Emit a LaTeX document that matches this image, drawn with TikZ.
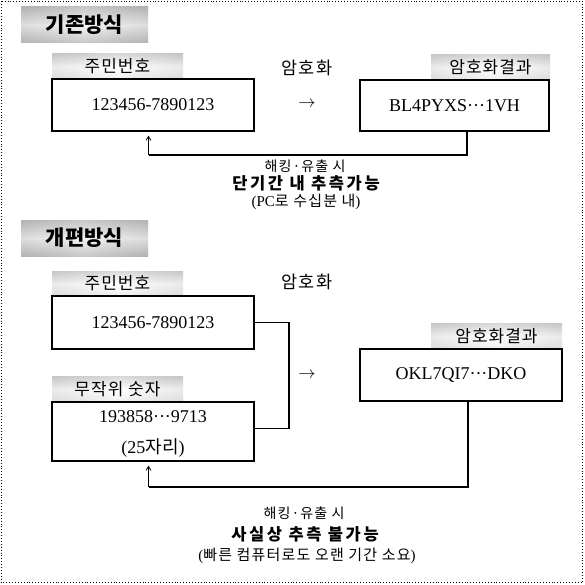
\documentclass[tikz,border=0pt]{standalone}
\usepackage{fontspec}
\setmainfont{Liberation Serif}
\newfontfamily\kr{Noto Sans CJK KR}
\usetikzlibrary{arrows.meta}
\definecolor{tagg}{gray}{0.68}
\definecolor{titg}{gray}{0.60}
\begin{document}
\begin{tikzpicture}[x=1pt,y=-1pt,
  box/.style={draw=black, line width=1.3pt, minimum width=202pt, minimum height=52pt,
    inner sep=0pt, font=\fontsize{18}{20}\selectfont},
  tag/.style={minimum width=131pt, minimum height=25pt, inner sep=0pt,
    preaction={left color=tagg, right color=tagg, middle color=white},
    top color=tagg, bottom color=tagg!40, middle color=white, fill opacity=0.45, text opacity=1,
    font=\kr\fontsize{17}{19}\selectfont\addfontfeatures{LetterSpace=6}},
  title/.style={minimum width=127pt, minimum height=36pt, inner sep=0pt,
    preaction={left color=titg, right color=titg, middle color=gray!12},
    top color=titg, bottom color=titg, middle color=gray!12, fill opacity=0.5, text opacity=1,
    font=\kr\bfseries\fontsize{21}{23}\selectfont},
  enc/.style={font=\kr\fontsize{17.5}{19}\selectfont\addfontfeatures{LetterSpace=6}},
  arr/.style={font=\fontsize{19}{21}\selectfont},
  num/.style={font=\fontsize{18}{20}\selectfont, inner sep=0pt},
  small/.style={font=\kr\fontsize{14}{16}\selectfont\addfontfeatures{LetterSpace=8}},
  strong/.style={font=\kr\bfseries\fontsize{16.5}{18}\selectfont\addfontfeatures{LetterSpace=16}},
  note/.style={font=\fontsize{15}{17}\selectfont},
  thickline/.style={line width=1.8pt},
  thinarrow/.style={line width=0.8pt, -{Straight Barb[length=4pt,width=5pt]}}
]
\useasboundingbox (0,0) rectangle (585,585);
\draw[dotted, line width=0.9pt] (1.5,1.5) rectangle (582.5,582.5);

% ---------- upper part ----------
\node[title] (t1) at (84.5,25) {기존방식};
\node[tag] (l1) at (117.5,66.5) {주민번호};
\node[box] (b1) at (153,105) {123456-7890123};
\node[enc] (enc1) at (307,68) {암호화};
\node[arr] (a1) at (307,104) {$\rightarrow$};
\node[tag, minimum width=119pt] (l2) at (490.5,67) {암호화결과};
\node[box, minimum width=189pt, minimum height=51pt] (b2) at (454.5,105.5) {BL4PYXS···1VH};
\coordinate (c1) at (148.5,155);
\draw[thickline] ([xshift=12.5pt]b2.south) |- (c1);
\draw[thinarrow] (c1) -- ([yshift=-4pt]c1 |- b1.south);
\node[small] (h1) at (305,166) {해킹·유출 시};
\node[strong] (h2) at (306,183.5) {단기간 내 추측가능};
\node[note] (h3) at (306,202) {(PC{\kr\addfontfeatures{LetterSpace=8} 로 수십분 내})};

% ---------- lower part ----------
\node[title] (t2) at (84.5,238) {개편방식};
\node[tag] (l3) at (117.5,283.5) {주민번호};
\node[box, minimum height=53pt] (b3) at (153,322.5) {123456-7890123};
\node[enc] (enc2) at (307,282) {암호화};
\node[tag] (l4) at (117.5,389) {무작위 숫자};
\node[box, minimum height=59pt] (b4) at (153,431.5) {};
\node[num] (n1) at (153,417) {193858···9713};
\node[num] (n2) at (153,448) {(25{\kr 자리})};
\coordinate (k) at (289,0);
\draw[line width=1.1pt] (b3.east) -- (b3.east -| k) |- ([yshift=3pt]b4.east);
\node[arr] (a2) at (307,375) {$\rightarrow$};
\node[tag] (l5) at (496.5,336) {암호화결과};
\node[box] (b5) at (461,375) {OKL7QI7···DKO};
\coordinate (c2) at (148.5,487);
\draw[thickline] ([xshift=7pt]b5.south) |- (c2);
\draw[thinarrow] (c2) -- ([yshift=-4pt]c2 |- b4.south);
\node[small] (h4) at (304,513) {해킹·유출 시};
\node[strong] (h5) at (305,534.5) {사실상 추측 불가능};
\node[note] (h6) at (307,555.5) {({\kr\addfontfeatures{LetterSpace=8} 빠른 컴퓨터로도 오랜 기간 소요})};
\end{tikzpicture}
\end{document}
